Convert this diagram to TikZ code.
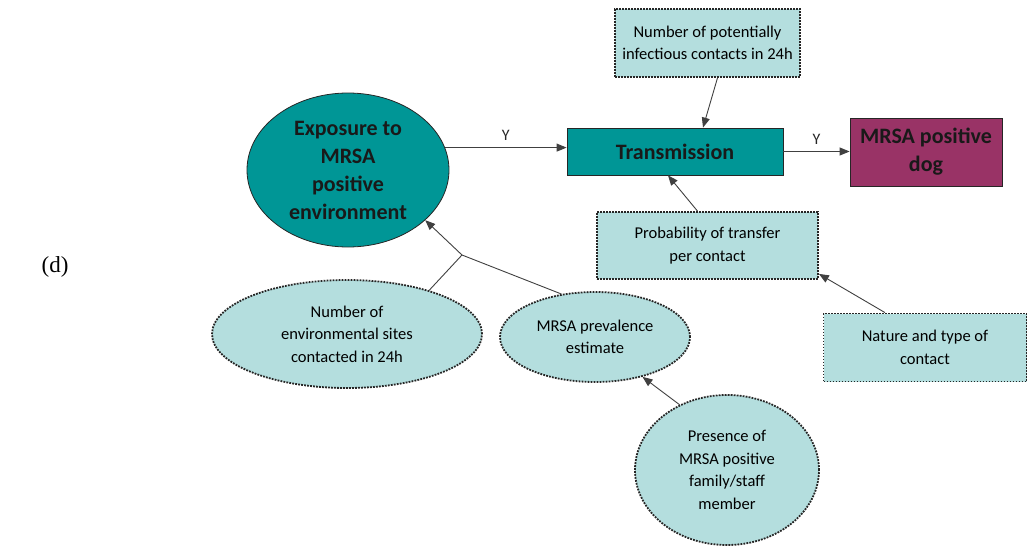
\documentclass[tikz,border=0pt]{standalone}
\usepackage{fontspec}
\setmainfont{Carlito}
\newfontfamily\serifd{Liberation Serif}
\usetikzlibrary{shapes.geometric,arrows.meta}
\definecolor{tealc}{RGB}{0,150,150}
\definecolor{lightc}{RGB}{180,222,222}
\definecolor{plumc}{RGB}{153,51,102}
\begin{document}
\begin{tikzpicture}[x=1pt,y=-1pt,
  darkbox/.style={fill=tealc, draw=black!85, line width=0.8pt, text=black!90,
    font=\bfseries\fontsize{22}{28}\selectfont, align=center, inner sep=0pt},
  dogbox/.style={darkbox, fill=plumc},
  lightbox/.style={rectangle, fill=lightc, draw=black!85, line width=1.8pt,
    dash pattern=on 1.8pt off 1.2pt, font=\fontsize{16.5}{22.5}\selectfont,
    align=center, inner sep=0pt},
  lightell/.style={lightbox, ellipse},
  conn/.style={draw=black!75, line width=0.9pt},
  arr/.style={conn, -{Triangle[length=10pt,width=8pt]}},
  ylab/.style={font=\fontsize{16}{18}\selectfont, text=black!85}
]
\useasboundingbox (0,0) rectangle (1029,549);
\node[font=\serifd\fontsize{23}{25}\selectfont] (lab) at (55,267) {(d)};

\node[darkbox, ellipse, minimum width=202pt, minimum height=154pt] (big) at (348,170)
  {Exposure to\\MRSA\\positive\\environment};
\node[darkbox, rectangle, minimum width=216pt, minimum height=47pt] (trans) at (675,151.5) {Transmission};
\node[dogbox, rectangle, minimum width=152pt, minimum height=68pt] (dog) at (926,152) {MRSA positive\\dog};

\node[lightbox, minimum width=185pt, minimum height=68pt] (top) at (707.5,43)
  {Number of potentially\\infectious contacts in 24h};
\node[lightbox, minimum width=221pt, minimum height=67pt] (prob) at (707.5,245.5)
  {Probability of transfer\\per contact};
\node[lightbox, minimum width=203pt, minimum height=68pt] (nat) at (925,347.5)
  {Nature and type of\\contact};

\node[lightell, minimum width=270pt, minimum height=108pt] (env) at (347,334)
  {Number of\\environmental sites\\contacted in 24h};
\node[lightell, minimum width=190pt, minimum height=90pt] (prev) at (595,337)
  {MRSA prevalence\\estimate};
\node[lightell, minimum width=184pt, minimum height=150pt] (pres) at (727,470)
  {Presence of\\MRSA positive\\family/staff\\member};

\coordinate (J) at (462,255);

\draw[arr] (big.13.5) -- node[ylab, above=3pt] {Y} (trans.west |- big.13.5);
\draw[arr] (trans.east) -- node[ylab, above=3pt] {Y} (dog.west |- trans.east);
\draw[arr] ([xshift=10pt]top.south) -- ([xshift=28pt]trans.north);
\draw[arr] ([xshift=-10pt]prob.north) -- ([xshift=-7pt]trans.south);
\draw[arr] ([xshift=-40pt]nat.north) -- ([yshift=6pt]prob.south east);
\draw[conn] (env.28) -- (J);
\draw[conn] (prev.128) -- (J);
\draw[arr] (J) -- (big.-33);
\draw[arr] (pres.126) -- (prev.-40);
\end{tikzpicture}
\end{document}
